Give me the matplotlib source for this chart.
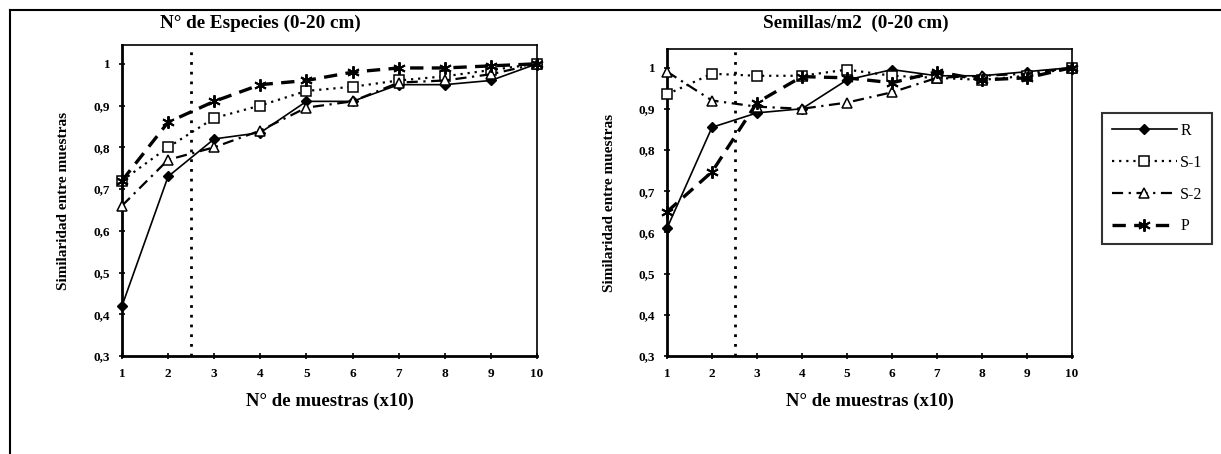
import matplotlib
matplotlib.use('Agg')
import matplotlib.pyplot as plt
from matplotlib.lines import Line2D
from matplotlib.ticker import FixedLocator, FuncFormatter

plt.rcParams['font.family'] = ['Liberation Serif', 'DejaVu Serif']
plt.rcParams['font.weight'] = 'bold'

# muestras (x10)
x = [1, 2, 3, 4, 5, 6, 7, 8, 9, 10]

# N° de Especies (0-20 cm)
esp_R = [0.42, 0.73, 0.82, 0.835, 0.91, 0.91, 0.95, 0.95, 0.96, 1.0]
esp_S1 = [0.72, 0.80, 0.87, 0.90, 0.935, 0.945, 0.96, 0.97, 0.985, 1.0]
esp_S2 = [0.66, 0.77, 0.80, 0.84, 0.895, 0.91, 0.955, 0.96, 0.975, 1.0]
esp_P = [0.72, 0.86, 0.91, 0.95, 0.96, 0.98, 0.99, 0.99, 0.995, 1.0]

# Semillas/m2 (0-20 cm)
sem_R = [0.61, 0.855, 0.89, 0.90, 0.97, 0.995, 0.98, 0.98, 0.99, 1.0]
sem_S1 = [0.935, 0.985, 0.98, 0.98, 0.995, 0.98, 0.975, 0.97, 0.98, 1.0]
sem_S2 = [0.99, 0.92, 0.905, 0.90, 0.915, 0.94, 0.975, 0.98, 0.985, 1.0]
sem_P = [0.65, 0.747, 0.915, 0.978, 0.975, 0.963, 0.99, 0.97, 0.975, 1.0]

labels = ['R', 'S-1', 'S-2', 'P']
corte = 2.5

W, H = 1221, 454
fig = plt.figure(figsize=(W / 100, H / 100), dpi=100)

estilos = {
    'R': dict(color='black', lw=1.2, ls='-', marker='D', ms=5, mfc='black', mec='black'),
    'S-1': dict(color='black', lw=1.6, ls=(0, (1, 2.2)), marker='s', ms=7, mfc='white', mec='black', mew=1.1),
    'S-2': dict(color='black', lw=1.6, ls=(0, (5, 2.5, 1, 2.5)), marker='^', ms=7, mfc='white', mec='black', mew=1.1),
    'P': dict(color='black', lw=2.4, ls=(0, (4, 2.5)), marker=(6, 2, 0), ms=9, mec='black', mew=1.4),
}


def panel(rect, series, titulo, tx):
    ax = fig.add_axes(rect)
    for lab, y in zip(labels, series):
        ax.plot(x, y, label=lab, clip_on=False, zorder=3, **estilos[lab])
    ax.axvline(corte, color='black', ls=(0, (1, 2.5)), lw=2)
    ax.set_xlim(1, 10)
    ax.set_ylim(0.3, 1.045)
    ax.xaxis.set_major_locator(FixedLocator(x))
    ax.yaxis.set_major_locator(FixedLocator([0.3, 0.4, 0.5, 0.6, 0.7, 0.8, 0.9, 1.0]))
    ax.yaxis.set_major_formatter(FuncFormatter(
        lambda v, p: '1' if abs(v - 1) < 1e-6 else ('%.1f' % v).replace('.', ',')))
    ax.tick_params(direction='inout', length=5, width=1.2, labelsize=9.5, pad=6)
    for s in ax.spines.values():
        s.set_linewidth(1.2)
    ax.spines['left'].set_linewidth(2)
    ax.spines['bottom'].set_linewidth(2)
    for t in ax.get_xticklabels() + ax.get_yticklabels():
        t.set_fontweight('bold')
    ax.set_xlabel('N° de muestras (x10)', fontsize=13.5, fontweight='bold', labelpad=9)
    ax.set_ylabel('Similaridad entre muestras', fontsize=11, fontweight='bold')
    ax.yaxis.set_label_coords(-0.125, 0.5)
    fig.text(tx, 1 - 23 / H, titulo, ha='center', va='center',
             fontsize=13.8, fontweight='bold')
    return ax


ax1 = panel([122 / W, 1 - 356 / H, 415 / W, 311 / H],
            [esp_R, esp_S1, esp_S2, esp_P], 'N° de Especies (0-20 cm)', 260 / W)
ax2 = panel([667 / W, 1 - 356 / H, 405 / W, 307 / H],
            [sem_R, sem_S1, sem_S2, sem_P], 'Semillas/m2  (0-20 cm)', 856 / W)

handles, labs = ax1.get_legend_handles_labels()
leg = fig.legend(handles, labs, loc='upper left', bbox_to_anchor=(1102 / W, 1 - 113 / H),
                 frameon=True, fancybox=False, edgecolor='black', fontsize=11.5,
                 handlelength=4.1, labelspacing=1.0, borderpad=0.6, handletextpad=0.2,
                 borderaxespad=0)
leg.get_frame().set_linewidth(1.5)
for t in leg.get_texts():
    t.set_fontweight('normal')

# marco exterior
fig.add_artist(Line2D([10 / W, 10 / W], [0, 1 - 10 / H], color='black', lw=1.5))
fig.add_artist(Line2D([10 / W, 1], [1 - 10 / H, 1 - 10 / H], color='black', lw=1.5))

fig.savefig('out.png', dpi=100)
